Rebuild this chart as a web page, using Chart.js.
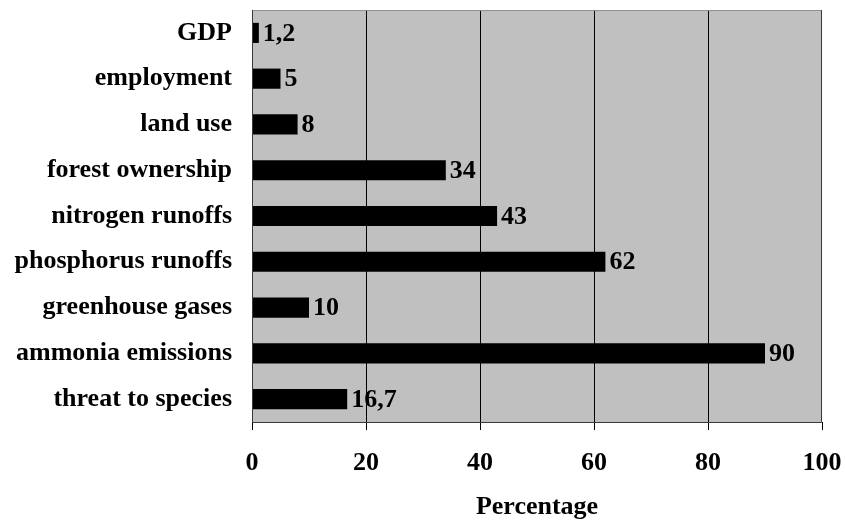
<!DOCTYPE html>
<html>
<head>
<meta charset="utf-8">
<script src="https://cdn.jsdelivr.net/npm/chart.js@4.4.1/dist/chart.umd.min.js"></script>
<style>
  html, body { margin: 0; padding: 0; background: #ffffff; }
  #wrap { width: 845px; height: 520px; position: relative; }
</style>
</head>
<body>
<div id="wrap"><canvas id="c" width="845" height="520"></canvas></div>
<script>
// Indicators and their share (percent)
const categories = [
  'GDP', 'employment', 'land use', 'forest ownership', 'nitrogen runoffs',
  'phosphorus runoffs', 'greenhouse gases', 'ammonia emissions', 'threat to species'
];
const percentages = [1.2, 5, 8, 34, 43, 62, 10, 90, 16.7];
const xTicks = [0, 20, 40, 60, 80, 100];

const FONT = '"Liberation Serif", "Times New Roman", serif';

// Gray plot background with a frame
const plotFrame = {
  id: 'plotFrame',
  beforeDraw(chart) {
    const { ctx, chartArea: a } = chart;
    ctx.save();
    ctx.fillStyle = '#c0c0c0';
    ctx.fillRect(a.left, a.top, a.right - a.left, a.bottom - a.top);
    ctx.restore();
  },
  afterDatasetsDraw(chart) {
    const { ctx, chartArea: a } = chart;
    ctx.save();
    ctx.lineWidth = 1;
    // light top edge
    ctx.strokeStyle = '#909090';
    ctx.beginPath();
    ctx.moveTo(a.left, a.top + 0.5);
    ctx.lineTo(a.right, a.top + 0.5);
    ctx.stroke();
    // darker left, right and bottom edges
    ctx.strokeStyle = '#3a3a3a';
    ctx.beginPath();
    ctx.moveTo(a.left + 0.5, a.top);
    ctx.lineTo(a.left + 0.5, a.bottom + 0.5);
    ctx.lineTo(a.right - 0.5, a.bottom + 0.5);
    ctx.lineTo(a.right - 0.5, a.top);
    ctx.stroke();
    ctx.restore();
  }
};

// Value labels printed just past the end of each bar
const valueLabels = {
  id: 'valueLabels',
  afterDatasetsDraw(chart) {
    const { ctx } = chart;
    const meta = chart.getDatasetMeta(0);
    ctx.save();
    ctx.font = 'bold 26px ' + FONT;
    ctx.fillStyle = '#000';
    ctx.textAlign = 'left';
    ctx.textBaseline = 'middle';
    meta.data.forEach((bar, i) => {
      const txt = String(percentages[i]).replace('.', ',');
      ctx.fillText(txt, bar.x + 4, bar.y + 1);
    });
    ctx.restore();
  }
};

new Chart(document.getElementById('c'), {
  type: 'bar',
  data: {
    labels: categories,
    datasets: [{
      data: percentages,
      backgroundColor: '#000000',
      borderWidth: 0,
      barPercentage: 0.44,
      categoryPercentage: 1.0
    }]
  },
  options: {
    indexAxis: 'y',
    responsive: false,
    animation: false,
    layout: { padding: { left: 0, right: 23, top: 10, bottom: 0 } },
    plugins: {
      legend: { display: false },
      tooltip: { enabled: false }
    },
    scales: {
      x: {
        min: 0,
        max: 100,
        afterBuildTicks(scale) { scale.ticks = xTicks.map(v => ({ value: v })); },
        afterFit(scale) {
          scale.height = 98;
          scale.paddingLeft = 0;
          scale.paddingRight = 0;
        },
        ticks: {
          font: { family: FONT, size: 26, weight: 'bold' },
          color: '#000',
          padding: 18
        },
        grid: {
          color: ctx => (ctx.tick && ctx.tick.value > 0 && ctx.tick.value < 100) ? '#000000' : 'rgba(0,0,0,0)',
          tickColor: '#000',
          tickLength: 8,
          lineWidth: 1
        },
        border: { display: false },
        title: {
          display: true,
          text: 'Percentage',
          font: { family: FONT, size: 26, weight: 'bold', lineHeight: 1 },
          color: '#000',
          padding: { top: 0, bottom: 0 }
        }
      },
      y: {
        afterFit(scale) {
          scale.width = 252;
          scale.paddingTop = 0;
          scale.paddingBottom = 0;
        },
        ticks: {
          font: { family: FONT, size: 26, weight: 'bold' },
          color: '#000',
          padding: 20
        },
        grid: { display: false, drawTicks: false },
        border: { display: false }
      }
    }
  },
  plugins: [plotFrame, valueLabels]
});
</script>
</body>
</html>
